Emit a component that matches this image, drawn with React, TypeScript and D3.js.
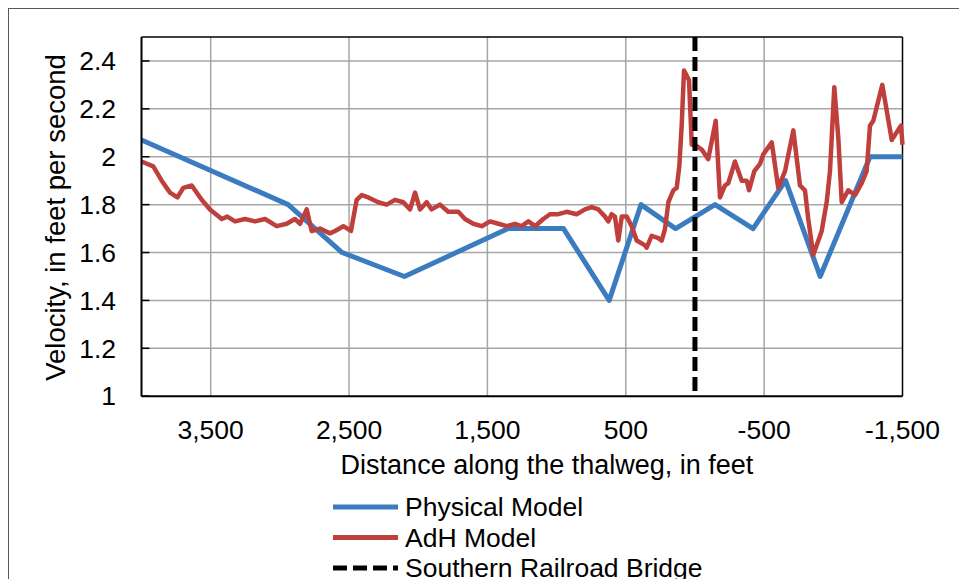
import React from "react";
import * as d3 from "d3";

// Physical model velocity along the thalweg
const physicalDistance = [4000, 2940, 2550, 2100, 1350, 950, 620, 390, 140, -145, -420, -655, -905, -1265, -1500];
const physicalVelocity = [2.07, 1.8, 1.6, 1.5, 1.7, 1.7, 1.4, 1.8, 1.7, 1.8, 1.7, 1.9, 1.5, 2.0, 2.0];

// AdH numerical model velocity along the thalweg
const adhDistance = [
  4000, 3915, 3854, 3794, 3741, 3698, 3637, 3565, 3505, 3420,
  3380, 3324, 3252, 3180, 3107, 3023, 2951, 2891, 2854, 2806,
  2770, 2710, 2638, 2601, 2541, 2486, 2445, 2408, 2361, 2289,
  2228, 2168, 2108, 2059, 2023, 1987, 1939, 1903, 1843, 1783,
  1710, 1662, 1602, 1541, 1481, 1421, 1360, 1301, 1252, 1204,
  1156, 1096, 1048, 988, 927, 855, 795, 746, 698, 650,
  626, 602, 578, 554, 529, 493, 457, 421, 361, 349,
  313, 265, 240, 216, 192, 156, 132, 113, 96, 79,
  43, 23, 0, -49, -96, -150, -181, -217, -241, -289,
  -338, -374, -391, -429, -470, -494, -555, -602, -651, -711,
  -759, -795, -819, -855, -916, -952, -976, -1007, -1036, -1061,
  -1108, -1157, -1205, -1241, -1265, -1289, -1354, -1422, -1489, -1500,
];
const adhVelocity = [
  1.98, 1.96, 1.9, 1.85, 1.83, 1.87, 1.88, 1.82, 1.78, 1.74,
  1.75, 1.73, 1.74, 1.73, 1.74, 1.71, 1.72, 1.74, 1.72, 1.78,
  1.69, 1.7, 1.68, 1.69, 1.71, 1.69, 1.82, 1.84, 1.83, 1.81,
  1.8, 1.82, 1.81, 1.78, 1.85, 1.78, 1.81, 1.78, 1.8, 1.77,
  1.77, 1.74, 1.72, 1.71, 1.73, 1.72, 1.71, 1.72, 1.71, 1.73,
  1.71, 1.74, 1.76, 1.76, 1.77, 1.76, 1.78, 1.79, 1.78, 1.75,
  1.73, 1.76, 1.75, 1.65, 1.75, 1.75, 1.71, 1.65, 1.63, 1.62,
  1.67, 1.66, 1.65, 1.7, 1.81, 1.86, 1.87, 1.96, 2.13, 2.36,
  2.32, 2.05, 2.05, 2.03, 1.99, 2.15, 1.83, 1.88, 1.89, 1.98,
  1.9, 1.9, 1.86, 1.94, 1.97, 2.01, 2.06, 1.87, 1.94, 2.11,
  1.88, 1.86, 1.74, 1.59, 1.69, 1.81, 1.94, 2.29, 2.08, 1.81,
  1.86, 1.84, 1.89, 1.94, 2.13, 2.15, 2.3, 2.07, 2.13, 2.05,
];

// Location of the Southern Railroad Bridge
const bridgeDistance = 0;

const xTicks = [3500, 2500, 1500, 500, -500, -1500];
const yTicks = [1, 1.2, 1.4, 1.6, 1.8, 2, 2.2, 2.4];

const legendItems = [
  { label: "Physical Model", color: "#3B7CC0", dash: "", width: 5 },
  { label: "AdH Model", color: "#BF3F3D", dash: "", width: 5 },
  { label: "Southern Railroad Bridge", color: "#000000", dash: "14 6", width: 5 },
];

const FONT = "'Liberation Sans', Arial, sans-serif";
const FS = 26.5;

export default function App() {
  const left = 141.5;
  const right = 902.5;
  const top = 37;
  const bottom = 396.2;

  const x = d3.scaleLinear().domain([4000, -1500]).range([left, right]);
  const y = d3.scaleLinear().domain([1, 2.5]).range([bottom, top]);

  const line = d3
    .line<[number, number]>()
    .x((d) => x(d[0]))
    .y((d) => y(d[1]));

  const physicalPts = physicalDistance.map((d, i) => [d, physicalVelocity[i]] as [number, number]);
  const adhPts = adhDistance.map((d, i) => [d, adhVelocity[i]] as [number, number]);

  const fmt = (v: number) => d3.format(",")(v).replace("\u2212", "-");
  const yFmt = (v: number) => (Number.isInteger(v) ? String(v) : v.toFixed(1));

  return (
    <svg
      width={959}
      height={579}
      style={{ position: "absolute", left: 0, top: 0, background: "#fff" }}
      fontFamily={FONT}
    >
      <rect x={0} y={0} width={959} height={579} fill="#fff" />
      {/* chart frame */}
      <rect x={8.5} y={8.5} width={1000} height={700} fill="none" stroke="#595959" strokeWidth={1} />

      {/* gridlines */}
      {yTicks
        .filter((t) => t > 1)
        .map((t) => (
          <line key={"gy" + t} x1={left} x2={right} y1={y(t)} y2={y(t)} stroke="#A6A6A6" strokeWidth={1.5} />
        ))}
      {xTicks
        .filter((t) => t !== -1500)
        .map((t) => (
          <line key={"gx" + t} x1={x(t)} x2={x(t)} y1={top} y2={bottom} stroke="#A6A6A6" strokeWidth={1.5} />
        ))}

      {/* plot border */}
      <line x1={left} x2={right} y1={top} y2={top} stroke="#000" strokeWidth={1.5} />
      <line x1={right} x2={right} y1={top} y2={bottom} stroke="#000" strokeWidth={1.5} />

      {/* series */}
      <path
        d={line(physicalPts) || ""}
        fill="none"
        stroke={legendItems[0].color}
        strokeWidth={legendItems[0].width}
        strokeLinejoin="round"
      />
      <path
        d={line(adhPts) || ""}
        fill="none"
        stroke={legendItems[1].color}
        strokeWidth={legendItems[1].width - 0.5}
        strokeLinejoin="round"
      />
      <line
        x1={x(bridgeDistance)}
        x2={x(bridgeDistance)}
        y1={top}
        y2={bottom}
        stroke="#000"
        strokeWidth={legendItems[2].width}
        strokeDasharray={legendItems[2].dash}
      />

      {/* axes */}
      <line x1={left} x2={left} y1={top} y2={bottom} stroke="#000" strokeWidth={2} />
      <line x1={left} x2={right} y1={bottom} y2={bottom} stroke="#000" strokeWidth={2} />
      {yTicks.map((t) => (
        <line key={"ty" + t} x1={left} x2={left + 8} y1={y(t)} y2={y(t)} stroke="#000" strokeWidth={1.5} />
      ))}

      {/* tick labels */}
      {yTicks.map((t) => (
        <text key={"ly" + t} x={116} y={y(t)} dy="0.35em" textAnchor="end" fontSize={FS} fill="#000">
          {yFmt(t)}
        </text>
      ))}
      {xTicks.map((t) => (
        <text key={"lx" + t} x={x(t)} y={439} textAnchor="middle" fontSize={FS} fill="#000">
          {fmt(t)}
        </text>
      ))}

      {/* axis titles */}
      <text x={547} y={474} textAnchor="middle" fontSize={27} fill="#000">
        Distance along the thalweg, in feet
      </text>
      <text
        transform={`translate(65, ${(57 + 378) / 2}) rotate(-90)`}
        textAnchor="middle"
        fontSize={27.5}
        fill="#000"
      >
        Velocity, in feet per second
      </text>

      {/* legend */}
      {legendItems.map((item, i) => {
        const cy = 507 + i * 30.5;
        return (
          <g key={item.label}>
            <line
              x1={333}
              x2={398}
              y1={cy}
              y2={cy}
              stroke={item.color}
              strokeWidth={item.width}
              strokeDasharray={item.dash || undefined}
            />
            <text x={405} y={cy} dy="0.35em" fontSize={FS} fill="#000">
              {item.label}
            </text>
          </g>
        );
      })}
    </svg>
  );
}
